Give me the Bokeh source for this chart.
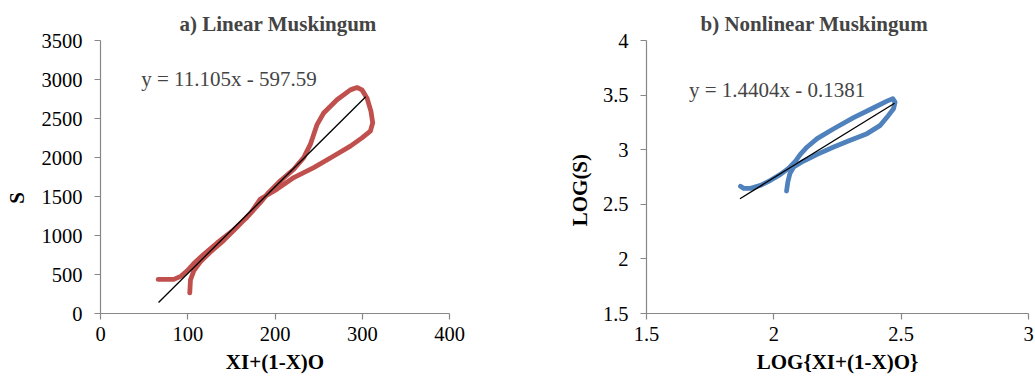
from bokeh.plotting import figure
from bokeh.layouts import row
from bokeh.models import Range1d, Label, FixedTicker, NumeralTickFormatter
from bokeh.embed import file_html
from bokeh.resources import INLINE

# ---------------- data: a) Linear Muskingum ----------------
lin_x = [66.1, 75.0, 84.0, 92.4, 99.3, 106.9, 118.4, 133.6, 152.7, 168.0, 183.3, 192.8,
         206.2, 221.5, 232.9, 240.5, 248.2, 255.8, 271.1, 286.4, 294.0, 299.7, 305.5,
         310.0, 312.0, 309.3, 299.7, 286.4, 267.3, 244.4, 221.5, 202.4, 183.3, 171.8,
         156.6, 141.3, 126.0, 114.5, 106.9, 103.1, 102.3]
lin_s = [437, 437, 437, 480, 547, 641, 760, 904, 1073, 1234, 1425, 1553,
         1701, 1849, 1998, 2168, 2422, 2570, 2740, 2867, 2897, 2867, 2761,
         2592, 2443, 2337, 2252, 2146, 2019, 1871, 1743, 1595, 1468, 1285,
         1107, 938, 789, 662, 547, 429, 265]
lin_slope = 11.105
lin_intercept = -597.59
lin_fit_x = [66.5, 304.0]
lin_xticks = [0, 100, 200, 300, 400]
lin_yticks = [0, 500, 1000, 1500, 2000, 2500, 3000, 3500]

# ---------------- data: b) Nonlinear Muskingum ----------------
log_x = [1.869, 1.882, 1.909, 1.948, 1.987, 2.026, 2.059, 2.085, 2.104, 2.131, 2.170,
         2.235, 2.313, 2.392, 2.444, 2.467, 2.476, 2.470, 2.450, 2.418, 2.366, 2.300,
         2.235, 2.170, 2.117, 2.078, 2.063, 2.055, 2.050]
log_s = [2.665, 2.646, 2.646, 2.674, 2.720, 2.774, 2.832, 2.896, 2.957, 3.025, 3.101,
         3.192, 3.293, 3.384, 3.445, 3.467, 3.436, 3.375, 3.314, 3.223, 3.147, 3.086,
         3.025, 2.957, 2.896, 2.842, 2.781, 2.704, 2.622]
log_slope = 1.4404
log_intercept = -0.1381
log_fit_x = [1.867, 2.474]
log_xticks = [1.5, 2, 2.5, 3]
log_yticks = [1.5, 2, 2.5, 3, 3.5, 4]

FONT = "Liberation Serif"
AXIS_COLOR = "#878787"
NB = "\u00a0"


def style(p, xticks, yticks):
    p.xgrid.visible = False
    p.ygrid.visible = False
    p.outline_line_color = None
    p.background_fill_color = "white"
    p.border_fill_color = "white"
    for ax, ticks in ((p.xaxis[0], xticks), (p.yaxis[0], yticks)):
        ax.ticker = FixedTicker(ticks=ticks, minor_ticks=[])
        ax.axis_line_color = AXIS_COLOR
        ax.axis_line_width = 1.2
        ax.major_tick_line_color = AXIS_COLOR
        ax.major_tick_line_width = 1.2
        ax.major_tick_out = 6
        ax.major_tick_in = 0
        ax.minor_tick_out = 0
        ax.minor_tick_in = 0
        ax.major_label_text_font = FONT
        ax.major_label_text_font_size = "20.5px"
        ax.major_label_text_color = "black"
        ax.axis_label_text_font = FONT
        ax.axis_label_text_font_size = "21px"
        ax.axis_label_text_font_style = "bold"
        ax.axis_label_text_color = "black"
    p.xaxis[0].major_label_standoff = 7
    p.yaxis[0].major_label_standoff = 12
    p.xaxis[0].axis_label_standoff = 6
    p.title.text_font = FONT
    p.title.text_font_size = "21px"
    p.title.text_font_style = "bold"
    p.title.align = "left"


# ---------------- panel a ----------------
pa = figure(width=517, height=379, output_backend="svg", toolbar_location=None,
            x_range=Range1d(0, 400), y_range=Range1d(0, 3500),
            min_border_left=100, min_border_right=68, min_border_top=38, min_border_bottom=65,
            title="a) Linear Muskingum")
style(pa, lin_xticks, lin_yticks)
pa.title.offset = 79
pa.xaxis[0].axis_label = "XI+(1-X)O"
pa.yaxis[0].axis_label = "S" + NB * 8
pa.yaxis[0].axis_label_standoff = 10
pa.line(lin_x, lin_s, line_color="#C0504D", line_width=4.8, line_join="round", line_cap="round")
pa.line(lin_fit_x, [lin_slope * v + lin_intercept for v in lin_fit_x], line_color="black", line_width=1.3)
pa.add_layout(Label(x=46.6, y=3010, text="y = 11.105x - 597.59", text_font=FONT,
                    text_font_size="21px", text_baseline="alphabetic", text_align="left"))

# ---------------- panel b ----------------
pb = figure(width=518, height=379, output_backend="svg", toolbar_location=None,
            x_range=Range1d(1.5, 3), y_range=Range1d(1.5, 4),
            min_border_left=129, min_border_right=7, min_border_top=40, min_border_bottom=66,
            title="b) Nonlinear Muskingum")
style(pb, log_xticks, log_yticks)
pb.title.offset = 54
pb.xaxis[0].axis_label = "LOG{XI+(1-X)O}"
pb.yaxis[0].axis_label = "LOG(S)" + NB * 5
pb.yaxis[0].axis_label_standoff = 8
pb.xaxis[0].formatter = NumeralTickFormatter(format="0.[0]")
pb.yaxis[0].formatter = NumeralTickFormatter(format="0.[0]")
pb.line(log_x, log_s, line_color="#4F81BD", line_width=4.8, line_join="round", line_cap="round")
pb.line(log_fit_x, [log_slope * v + log_intercept for v in log_fit_x], line_color="black", line_width=1.3)
pb.add_layout(Label(x=1.667, y=3.545, text="y = 1.4404x - 0.1381", text_font=FONT,
                    text_font_size="21px", text_baseline="alphabetic", text_align="left"))

layout = row(pa, pb)
open("out.html", "w").write(file_html(layout, INLINE))
